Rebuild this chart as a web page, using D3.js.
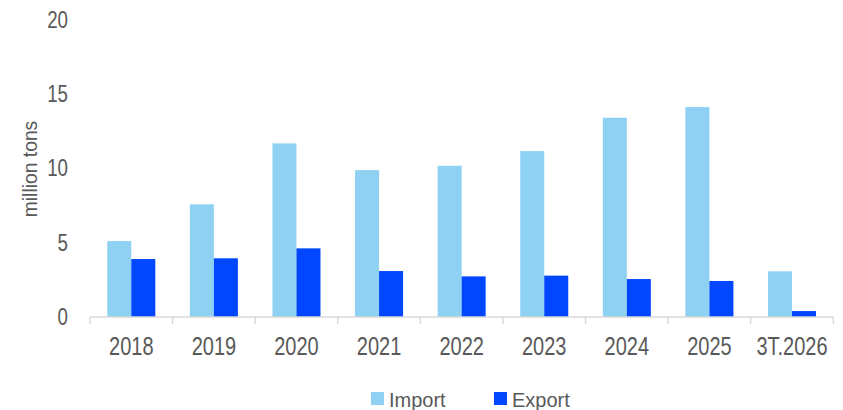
<!DOCTYPE html>
<html>
<head>
<meta charset="utf-8">
<script src="https://cdn.jsdelivr.net/npm/d3@7"></script>
<style>
  html, body { margin: 0; padding: 0; background: #ffffff; }
  svg { display: block; font-family: "Liberation Sans", Arial, sans-serif; }
</style>
</head>
<body>
<svg id="chart" width="843" height="410"></svg>
<script>
// Annual volumes, million tons
const categories = ["2018", "2019", "2020", "2021", "2022", "2023", "2024", "2025", "3T.2026"];
const importValues = [5.12, 7.6, 11.71, 9.91, 10.2, 11.19, 13.44, 14.16, 3.08];
const exportValues = [3.91, 3.96, 4.63, 3.1, 2.74, 2.79, 2.56, 2.43, 0.4];
const yTicks = [0, 5, 10, 15, 20];
const seriesNames = ["Import", "Export"];
const seriesColors = ["#8ed1f3", "#0047ff"];

const svg = d3.select("#chart");
const textColor = "#595959";
const axisColor = "#d9d9d9";

const x0 = d3.scaleBand().domain(categories).range([90, 833.3]).paddingInner(0).paddingOuter(0);
const x1 = d3.scaleBand().domain(seriesNames).range([0, x0.bandwidth()]).paddingInner(0).paddingOuter(0.72);
const y = d3.scaleLinear().domain([0, 20]).range([317, 20.5]);

const rows = categories.map((c, i) => ({ cat: c, values: [importValues[i], exportValues[i]] }));

// Bars
const groups = svg.append("g").selectAll("g")
  .data(rows).join("g")
  .attr("transform", d => `translate(${x0(d.cat)},0)`);

groups.selectAll("rect")
  .data(d => d.values.map((v, k) => ({ name: seriesNames[k], value: v, color: seriesColors[k] })))
  .join("rect")
  .attr("x", d => x1(d.name))
  .attr("width", x1.bandwidth())
  .attr("y", d => y(d.value))
  .attr("height", d => y(0) - y(d.value))
  .attr("fill", d => d.color);

// X axis with category separator ticks
const xAxis = svg.append("g").attr("transform", `translate(0,${y(0)})`);
xAxis.append("line")
  .attr("x1", x0.range()[0]).attr("x2", x0.range()[1])
  .attr("y1", 0).attr("y2", 0)
  .attr("stroke", axisColor).attr("stroke-width", 1.5);
const edges = categories.map(c => x0(c)).concat([x0.range()[1]]);
xAxis.selectAll("line.tick")
  .data(edges).join("line")
  .attr("class", "tick")
  .attr("x1", d => d).attr("x2", d => d)
  .attr("y1", 0).attr("y2", 7)
  .attr("stroke", axisColor).attr("stroke-width", 1.5);
xAxis.selectAll("text")
  .data(categories).join("text")
  .attr("transform", d => `translate(${x0(d) + x0.bandwidth() / 2},38) scale(0.8,1)`)
  .attr("text-anchor", "middle")
  .attr("fill", textColor)
  .attr("font-size", 25)
  .text(d => d);

// Y axis labels (no axis line), condensed
const yAxis = d3.axisLeft(y).tickValues(yTicks).tickSize(0).tickPadding(0);
const yG = svg.append("g").attr("transform", "translate(68,0)").call(yAxis);
yG.select(".domain").remove();
yG.selectAll("text")
  .attr("fill", textColor)
  .attr("font-size", 24)
  .attr("font-family", "Liberation Sans, Arial, sans-serif")
  .attr("dy", "0.3em")
  .attr("transform", "scale(0.78,1)");

// Y axis title
svg.append("text")
  .attr("transform", "translate(36.5,169) rotate(-90) scale(0.92,1)")
  .attr("text-anchor", "middle")
  .attr("fill", textColor)
  .attr("font-size", 21)
  .text("million tons");

// Legend
const legendItems = [
  { name: seriesNames[0], color: seriesColors[0], x: 371 },
  { name: seriesNames[1], color: seriesColors[1], x: 494 }
];
const legend = svg.append("g").selectAll("g").data(legendItems).join("g")
  .attr("transform", d => `translate(${d.x},392)`);
legend.append("rect").attr("width", 13).attr("height", 13).attr("fill", d => d.color);
legend.append("text")
  .attr("x", 18).attr("y", 14.5)
  .attr("fill", textColor).attr("font-size", 20)
  .text(d => d.name);
</script>
</body>
</html>
